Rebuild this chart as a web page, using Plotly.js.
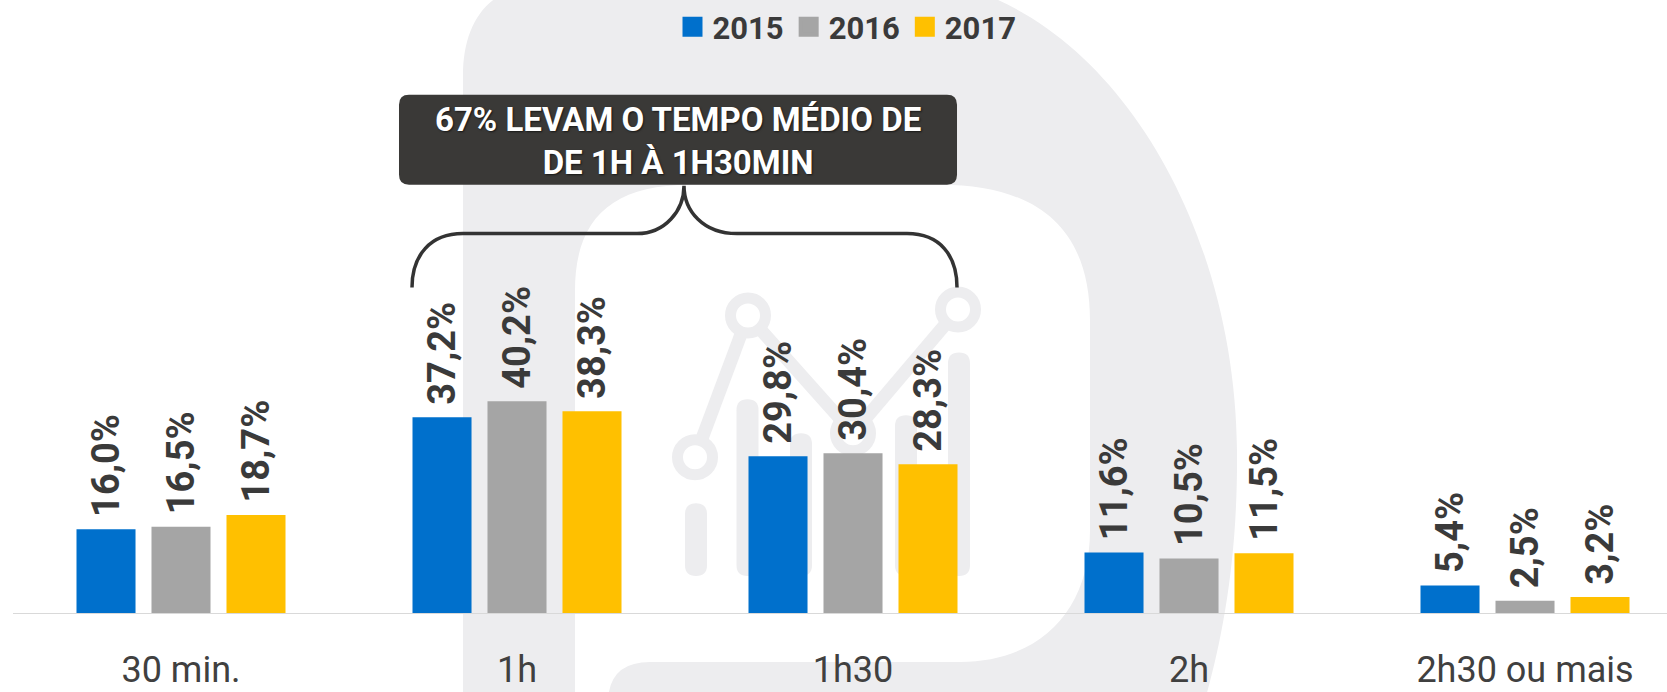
<!DOCTYPE html>
<html>
<head>
<meta charset="utf-8">
<script src="https://cdn.plot.ly/plotly-3.0.1.min.js"></script>
<style>
  html, body { margin: 0; padding: 0; background: #ffffff; }
  #chart { width: 1667px; height: 692px; }
</style>
</head>
<body>
<div id="chart"></div>
<script>
// ---------- data ----------
const categories = ['30 min.', '1h', '1h30', '2h', '2h30 ou mais'];
const seriesNames = ['2015', '2016', '2017'];
const values2015 = [16.0, 37.2, 29.8, 11.6, 5.4];
const values2016 = [16.5, 40.2, 30.4, 10.5, 2.5];
const values2017 = [18.7, 38.3, 28.3, 11.5, 3.2];
const seriesColors = ['#0070CC', '#A5A5A5', '#FFC000'];
const calloutText = '67% LEVAM O TEMPO MÉDIO DE<br>DE 1H À 1H30MIN';

// ---------- layout helpers (decoration only) ----------
const W = 1667, H = 692, PB = 78, PH = H - PB;
const X = p => p / W;
const Y = p => (PH - p) / PH;
function P(str) {
  // convert a pixel path (pairs of x y) into paper coordinates
  let i = 0;
  return str.trim().split(/\s+/).map(tok => {
    if (/^[A-Za-z]$/.test(tok)) return tok;
    const v = parseFloat(tok);
    const out = (i % 2 === 0) ? X(v) : Y(v);
    i++;
    return out.toFixed(5);
  }).join(' ');
}

const WM = '#EDEDEF';
const shapes = [];
// watermark: outer D
shapes.push({type: 'path', xref: 'paper', yref: 'paper', layer: 'below',
  path: P('M 463 700 L 463 75 C 463 25 485 -10 530 -15 L 960 -15 C 1120 30 1235 230 1237 450 C 1238 560 1222 640 1205 700 Z'),
  fillcolor: WM, line: {width: 0}});
// watermark: inner white
shapes.push({type: 'path', xref: 'paper', yref: 'paper', layer: 'below',
  path: P('M 575 700 L 575 290 C 575 220 610 184 690 184 L 940 184 C 1040 184 1090 230 1090 320 L 1090 530 C 1090 610 1040 662 960 662 L 650 662 Q 610 662 608 700 Z'),
  fillcolor: '#FFFFFF', line: {width: 0}});
// icon: connecting lines
const iconPts = [[695, 457], [748, 315], [853, 433], [958, 309]];
for (let k = 0; k < iconPts.length - 1; k++) {
  shapes.push({type: 'line', xref: 'paper', yref: 'paper', layer: 'below',
    x0: X(iconPts[k][0]), y0: Y(iconPts[k][1]), x1: X(iconPts[k + 1][0]), y1: Y(iconPts[k + 1][1]),
    line: {color: WM, width: 13}});
}
// icon: rounded vertical bars
const iconBars = [[696, 503], [747.5, 399], [801, 433], [906, 415], [959, 352]];
const iconBottom = 576, hw = 11;
iconBars.forEach(([cx, yt]) => {
  const x0 = cx - hw, x1 = cx + hw, yb = iconBottom;
  shapes.push({type: 'path', xref: 'paper', yref: 'paper', layer: 'below',
    path: P(`M ${x0} ${yb - hw} L ${x0} ${yt + hw} Q ${x0} ${yt} ${cx} ${yt} Q ${x1} ${yt} ${x1} ${yt + hw} L ${x1} ${yb - hw} Q ${x1} ${yb} ${cx} ${yb} Q ${x0} ${yb} ${x0} ${yb - hw} Z`),
    fillcolor: WM, line: {width: 0}});
});
// icon: hollow circles
iconPts.forEach(([cx, cy]) => {
  const r = 17.5;
  shapes.push({type: 'circle', xref: 'paper', yref: 'paper', layer: 'below',
    x0: X(cx - r), x1: X(cx + r), y0: Y(cy + r), y1: Y(cy - r),
    fillcolor: '#FFFFFF', line: {color: WM, width: 11}});
});
// baseline
shapes.push({type: 'line', xref: 'x', yref: 'y', layer: 'above',
  x0: -0.5, x1: 4.6, y0: 0, y1: 0, line: {color: '#D9D9D9', width: 2}});
// callout box (rounded)
shapes.push({type: 'path', xref: 'paper', yref: 'paper', layer: 'above',
  path: P('M 409 94 L 947 94 Q 957 94 957 104 L 957 174 Q 957 184 947 184 L 409 184 Q 399 184 399 174 L 399 104 Q 399 94 409 94 Z'),
  fillcolor: '#3A3937', line: {width: 0}});
// brace
shapes.push({type: 'path', xref: 'paper', yref: 'paper', layer: 'above',
  path: P('M 412 287 C 412 255 430 233 463 233 L 637 233 C 665 233 684 210 684 185 C 684 210 703 233 737 233 L 907 233 C 940 233 957 255 957 287'),
  fillcolor: 'rgba(0,0,0,0)', line: {color: '#333333', width: 3.5}});

// ---------- traces ----------
const allValues = [values2015, values2016, values2017];
const traces = [];
allValues.forEach((vals, i) => {
  traces.push({
    type: 'bar', x: categories, y: vals, name: seriesNames[i], showlegend: false,
    marker: {color: seriesColors[i]},
    texttemplate: '\u00a0%{y:.1f}%', textposition: 'outside', textangle: -90,
    constraintext: 'none', cliponaxis: false,
    outsidetextfont: {family: 'Roboto', size: 38, weight: 700, color: '#3A3A3A'},
    hoverinfo: 'x+y'
  });
});
// legend entries
seriesNames.forEach((nm, i) => {
  traces.push({type: 'scatter', mode: 'markers', x: [null], y: [null], name: nm,
    marker: {symbol: 'square', size: 18, color: seriesColors[i], line: {color: seriesColors[i], width: 4}},
    showlegend: true, hoverinfo: 'skip'});
});

const layout = {
  width: W, height: H,
  margin: {l: 0, r: 0, t: 0, b: PB, pad: 0},
  paper_bgcolor: '#FFFFFF', plot_bgcolor: 'rgba(0,0,0,0)',
  separators: ',.',
  barmode: 'group', bargap: 0.3304, bargroupgap: 0.213,
  font: {family: 'Roboto', color: '#404040'},
  xaxis: {type: 'category', range: [-0.5387, 4.4226], showgrid: false, zeroline: false, showline: false,
    ticks: '', ticklabelstandoff: 31, tickfont: {family: 'Roboto', size: 36, color: '#404040'}, fixedrange: true},
  yaxis: {range: [0, PH / 5.30], visible: false, fixedrange: true},
  showlegend: true,
  legend: {orientation: 'h', x: X(847), xanchor: 'center', y: Y(26), yanchor: 'middle',
    bgcolor: 'rgba(0,0,0,0)', font: {family: 'Roboto', size: 31, weight: 700, color: '#3A3A3A'},
    itemwidth: 30, traceorder: 'normal'},
  shapes: shapes,
  annotations: [{
    xref: 'paper', yref: 'paper', x: X(678), y: Y(140), xanchor: 'center', yanchor: 'middle',
    text: calloutText, showarrow: false, align: 'center',
    font: {family: 'Roboto', size: 33, weight: 700, color: '#FFFFFF', shadow: '1px 1px 2px rgba(0,0,0,0.6)'}
  }]
};

Plotly.newPlot('chart', traces, layout, {displayModeBar: false, staticPlot: true});
</script>
</body>
</html>
